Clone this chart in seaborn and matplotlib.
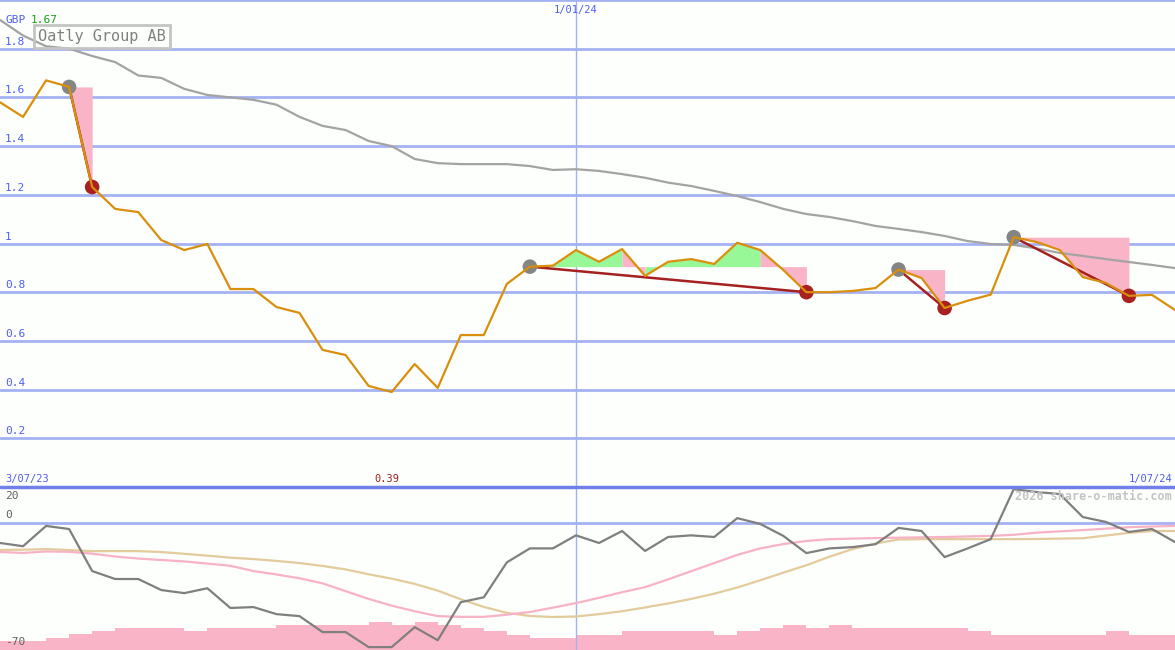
import numpy as np
import pandas as pd
import matplotlib
matplotlib.use("Agg")
import matplotlib.pyplot as plt
import seaborn as sns

# weekly closes, GBP (3/07/23 .. 1/07/24)
price = [1.58, 1.52, 1.67, 1.643, 1.232, 1.142, 1.129, 1.014, 0.973, 0.998,
         0.813, 0.813, 0.739, 0.715, 0.563, 0.542, 0.415, 0.39, 0.505, 0.407,
         0.624, 0.624, 0.834, 0.905, 0.909, 0.973, 0.925, 0.977, 0.867, 0.925,
         0.936, 0.916, 1.003, 0.973, 0.891, 0.80, 0.80, 0.805, 0.817, 0.893,
         0.858, 0.735, 0.765, 0.79, 1.026, 1.006, 0.973, 0.862, 0.838, 0.785,
         0.789, 0.727]
# long moving average
ma_long = [1.918, 1.854, 1.81, 1.80, 1.77, 1.745, 1.69, 1.68, 1.635, 1.61,
           1.60, 1.59, 1.57, 1.52, 1.483, 1.466, 1.421, 1.40, 1.347, 1.33,
           1.326, 1.326, 1.326, 1.318, 1.302, 1.305, 1.298, 1.285, 1.27, 1.25,
           1.236, 1.216, 1.195, 1.17, 1.142, 1.121, 1.109, 1.092, 1.072, 1.06,
           1.047, 1.031, 1.01, 0.998, 0.994, 0.98, 0.961, 0.949, 0.936, 0.924,
           0.912, 0.899]
# lower panel oscillator and its two averages
osc = [-10.9, -12.7, -1.5, -3.2, -26.4, -30.8, -30.8, -36.9, -38.6, -35.9,
       -46.8, -46.3, -50.2, -51.3, -60.1, -60.1, -68.4, -68.4, -57.4, -64.6,
       -43.6, -40.9, -21.6, -13.9, -13.9, -6.7, -10.9, -4.3, -15.3, -7.6,
       -6.7, -7.6, 2.8, -0.4, -7.0, -16.5, -13.9, -13.2, -11.6, -2.6,
       -4.3, -18.7, -13.9, -8.8, 18.8, 17.2, 16.1, 3.4, 0.7, -4.8,
       -3.2, -10.4]
osc_fast = [-15.9, -16.4, -15.6, -15.8, -16.8, -18.4, -19.5, -20.3, -21.1, -22.3,
            -23.5, -26.4, -28.3, -30.4, -33.2, -37.5, -41.8, -45.5, -48.6, -51.3,
            -51.7, -51.7, -50.5, -49.0, -46.6, -44.1, -41.2, -38.1, -35.3, -31.0,
            -26.5, -22.0, -17.5, -13.9, -11.5, -9.8, -8.8, -8.5, -8.2, -8.0,
            -7.8, -7.6, -7.3, -7.0, -6.4, -5.2, -4.5, -3.8, -3.0, -2.2,
            -1.8, -1.5]
osc_slow = [-14.8, -14.6, -14.3, -14.8, -15.4, -15.4, -15.4, -15.9, -16.9, -17.9,
            -19.0, -19.8, -20.8, -22.0, -23.6, -25.5, -28.2, -30.6, -33.5, -37.2,
            -42.0, -46.2, -49.5, -51.2, -51.8, -51.5, -50.2, -48.6, -46.5, -44.3,
            -41.8, -38.9, -35.5, -31.5, -27.3, -23.2, -18.5, -14.3, -11.2, -9.0,
            -8.8, -8.8, -8.8, -8.8, -8.8, -8.7, -8.5, -8.3, -6.8, -5.3,
            -4.3, -4.3]
# relative weekly volume
volume = [9, 9, 12, 16, 19, 22, 22, 22, 19, 22, 22, 22, 25, 25, 25, 25, 28,
          25, 28, 25, 22, 19, 15, 12, 12, 15, 15, 19, 19, 19, 19, 15, 19, 22,
          25, 22, 25, 22, 22, 22, 22, 22, 19, 15, 15, 15, 15, 15, 19, 15, 15]
# (peak, trough) week indices of the drawdowns
drops = [(3, 4), (23, 35), (39, 41), (44, 49)]
price_ticks = [0.2, 0.4, 0.6, 0.8, 1.0, 1.2, 1.4, 1.6, 1.8]
osc_ticks = [20, 0, -70]
date_labels = ["3/07/23", "1/01/24", "1/07/24"]
date_pos = [0, 25, 51]
name = "Oatly Group AB"

weeks = np.arange(len(price))
price_arr = np.array(price)
df = pd.DataFrame({"week": weeks, "price": price, "ma": ma_long,
                   "osc": osc, "fast": osc_fast, "slow": osc_slow})

sns.set_theme(style="white")
plt.rcParams["font.family"] = ["DejaVu Sans Mono", "DejaVu Sans"]

bg = "#fcfffc"
grid = "#a4b2f2"
blue = "#4f5cf5"
green_fill = "#98f898"
pink_fill = "#f9b4c8"
fig = plt.figure(figsize=(11.75, 6.5), dpi=100)
fig.patch.set_facecolor(bg)
ax = fig.add_axes([0, 163 / 650, 1, 487 / 650])
ax2 = fig.add_axes([0, 0, 1, 163 / 650])
for a in (ax, ax2):
    a.set_facecolor(bg)
    a.set_xticks([])
    a.set_yticks([])
    for s in a.spines.values():
        s.set_visible(False)
    a.set_xlim(0, len(price) - 1)
    a.axvline(date_pos[1], color=grid, lw=1, zorder=1)

# ---- top panel
ax.set_ylim(0, 2.0)
for t in price_ticks + [2.0]:
    ax.axhline(t, color=grid, lw=2, zorder=1, clip_on=False)
for t in price_ticks:
    ax.annotate(f"{t:g}", xy=(0, t), xycoords=("axes fraction", "data"),
                xytext=(5, 2), textcoords="offset pixels", va="bottom",
                ha="left", color=blue, fontsize=8)

for p, t in drops:
    level = price[p]
    # colour each week by whether it closes above the peak level,
    # then fill runs of the same colour in one go
    up = [price[i + 1] > level for i in range(p, t)]
    start = p
    for k in range(1, len(up) + 1):
        if k == len(up) or up[k] != up[k - 1]:
            end = p + k
            ax.fill_between(weeks[start:end + 1], price_arr[start:end + 1], level,
                            color=green_fill if up[k - 1] else pink_fill,
                            lw=0, zorder=2)
            start = end
    sns.lineplot(x=[p, t], y=[price[p], price[t]], ax=ax, color="#a52020",
                 lw=1.8, zorder=3)

sns.lineplot(data=df, x="week", y="ma", ax=ax, color="#a3a3a3", lw=1.6, zorder=2.5)
sns.lineplot(data=df, x="week", y="price", ax=ax, color="#d98f0c", lw=1.6, zorder=4)
sns.scatterplot(x=[p for p, _ in drops], y=[price[p] for p, _ in drops], ax=ax,
                color="#858585", s=110, edgecolor="none", zorder=3)
sns.scatterplot(x=[t for _, t in drops], y=[price[t] for _, t in drops], ax=ax,
                color="#a82020", s=110, edgecolor="none", zorder=3)
ax.set_xlabel("")
ax.set_ylabel("")

ax.annotate("GBP", xy=(5, 630), xycoords="figure pixels", color=blue,
            fontsize=8, va="center")
ax.annotate(f"{max(price):.2f}", xy=(31, 630), xycoords="figure pixels",
            color="#18a018", fontsize=8, va="center")
ax.annotate(name, xy=(38, 613.5), xycoords="figure pixels", color="#808080",
            fontsize=11, va="center", ha="left",
            bbox=dict(boxstyle="square,pad=0.25", fc="none", ec="#c4c4c4", lw=2))
ax.annotate(date_labels[1], xy=(date_pos[1], 2.0), xycoords="data",
            xytext=(0, -5), textcoords="offset pixels", ha="center", va="top",
            color=blue, fontsize=7.5)
ax.annotate(date_labels[0], xy=(date_pos[0], 0), xycoords="data",
            xytext=(5, 3), textcoords="offset pixels", ha="left", va="bottom",
            color=blue, fontsize=7.5)
ax.annotate(date_labels[2], xy=(date_pos[2], 0), xycoords="data",
            xytext=(-3, 3), textcoords="offset pixels", ha="right", va="bottom",
            color=blue, fontsize=7.5)
imin = int(np.argmin(price))
ax.annotate(f"{min(price):.2f}", xy=(imin, 0), xycoords="data",
            xytext=(-5, 3), textcoords="offset pixels", ha="center", va="bottom",
            color="#a52020", fontsize=7.5)

# ---- bottom panel
ax2.set_ylim(-70, 20)
axv = ax2.twinx()
axv.set_ylim(0, 163)
axv.set_yticks([])
for s in axv.spines.values():
    s.set_visible(False)
axv.bar(weeks[:-1], volume, width=1.0, align="edge", color=pink_fill, lw=0,
        antialiased=False, zorder=1)
ax2.set_zorder(axv.get_zorder() + 1)
ax2.patch.set_visible(False)

ax2.axhline(0, color=grid, lw=2, zorder=1)
ax2.axhline(20, color="#7080e8", lw=2.5, zorder=5, clip_on=False)
sns.lineplot(data=df, x="week", y="slow", ax=ax2, color="#e3cb9c", lw=1.6, zorder=2)
sns.lineplot(data=df, x="week", y="fast", ax=ax2, color="#f8b2c6", lw=1.6, zorder=2)
sns.lineplot(data=df, x="week", y="osc", ax=ax2, color="#7f7f7f", lw=1.6, zorder=3)
ax2.set_xlabel("")
ax2.set_ylabel("")
offsets = {20: (5, -4, "top"), 0: (5, 3, "bottom"), -70: (5, 3, "bottom")}
for t in osc_ticks:
    dx, dy, va = offsets[t]
    ax2.annotate(f"{t:g}", xy=(0, t), xycoords=("axes fraction", "data"),
                 xytext=(dx, dy), textcoords="offset pixels", va=va,
                 ha="left", color="#606060", fontsize=8)
ax2.annotate("2026 share-o-matic.com", xy=(1172, 154), xycoords="figure pixels",
             ha="right", va="center", color="#c4c4c4", fontsize=8.5,
             fontweight="bold", zorder=6)

fig.savefig("out.png", dpi=100, facecolor=bg)
